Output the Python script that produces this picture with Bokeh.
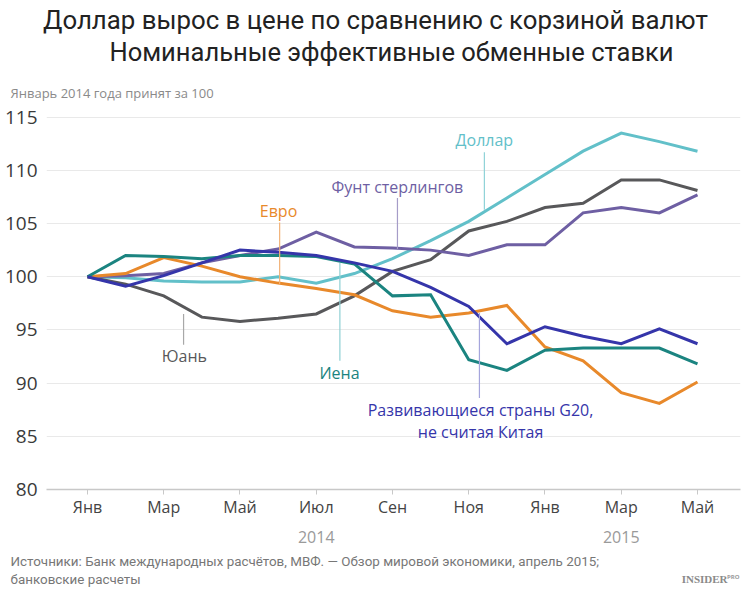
from bokeh.plotting import figure
from bokeh.models import Label, FixedTicker, LinearAxis, Range1d
from bokeh.layouts import column
from bokeh.embed import file_html
from bokeh.resources import INLINE

# ---- data (index 100 = January 2014), monthly Jan 2014 .. May 2015 ----
months = list(range(17))
tick_months = [0, 2, 4, 6, 8, 10, 12, 14, 16]
tick_labels = ["Янв", "Мар", "Май", "Июл", "Сен", "Ноя", "Янв", "Мар", "Май"]
year_ticks = [6, 14]
year_labels = ["2014", "2015"]
y_ticks = [80, 85, 90, 95, 100, 105, 110, 115]

dollar = [100, 99.9, 99.6, 99.5, 99.5, 100.0, 99.4, 100.3, 101.7, 103.4, 105.2, 107.4, 109.6, 111.8, 113.5, 112.7, 111.8]
yuan = [100, 99.3, 98.2, 96.2, 95.8, 96.1, 96.5, 98.2, 100.5, 101.6, 104.3, 105.2, 106.5, 106.9, 109.1, 109.1, 108.1]
pound = [100, 100.1, 100.3, 101.3, 102.0, 102.6, 104.2, 102.8, 102.7, 102.5, 102.0, 103.0, 103.0, 106.0, 106.5, 106.0, 107.7]
euro = [100, 100.3, 101.8, 101.0, 100.0, 99.4, 98.9, 98.3, 96.8, 96.2, 96.6, 97.3, 93.4, 92.1, 89.1, 88.1, 90.1]
yen = [100, 102.0, 101.9, 101.7, 102.0, 102.0, 101.9, 101.2, 98.2, 98.3, 92.2, 91.2, 93.1, 93.3, 93.3, 93.3, 91.8]
g20 = [100, 99.1, 100.1, 101.3, 102.5, 102.3, 102.0, 101.3, 100.5, 99.0, 97.2, 93.7, 95.3, 94.4, 93.7, 95.1, 93.7]

title_lines = ["Доллар вырос в цене по сравнению с корзиной валют",
               "Номинальные эффективные обменные ставки"]
subtitle = "Январь 2014 года принят за 100"
source_lines = ["Источники: Банк международных расчётов, МВФ. — Обзор мировой экономики, апрель 2015;",
                "банковские расчеты"]

FONT = "Open Sans"
TITLE_FONT = "Roboto"
W = 750
HEAD_H, MAIN_H, FOOT_H = 104, 445, 44


def blank(h, y_top):
    f = figure(frame_width=W, frame_height=h, output_backend="svg", toolbar_location=None,
               x_range=Range1d(0, W), y_range=Range1d(y_top + h, y_top),
               x_axis_location=None, y_axis_location=None, min_border=0)
    try:
        f.frame_align = False
    except AttributeError:
        pass
    f.grid.visible = False
    f.outline_line_color = None
    f.background_fill_color = "white"
    f.border_fill_color = "white"
    return f


# ---------------- header ----------------
head = blank(HEAD_H, 0)
head.add_layout(Label(x=375, y=19, text=title_lines[0], text_align="center", text_baseline="middle",
                      text_font=TITLE_FONT, text_font_size="25.8px", text_color="#222222"))
head.add_layout(Label(x=391, y=51, text=title_lines[1], text_align="center", text_baseline="middle",
                      text_font=TITLE_FONT, text_font_size="25.5px", text_color="#222222"))
head.add_layout(Label(x=10, y=92, text=subtitle, text_align="left", text_baseline="middle",
                      text_font=FONT, text_font_size="13px", text_color="#8a8a8a"))

# ---------------- main chart ----------------
X0, X1 = -1.0754, 17.128
p = figure(width=W, height=MAIN_H, output_backend="svg", toolbar_location=None,
           x_range=Range1d(X0, X1), y_range=Range1d(80, 116),
           min_border_left=46, min_border_right=10,
           min_border_top=2, min_border_bottom=60)
p.outline_line_color = None
p.background_fill_color = "white"
p.border_fill_color = "white"

p.xgrid.visible = False
p.ygrid.ticker = FixedTicker(ticks=y_ticks)
p.ygrid.grid_line_color = "#e9e9e9"
p.ygrid.grid_line_width = 1

p.yaxis.ticker = FixedTicker(ticks=y_ticks)
p.yaxis.axis_line_color = None
p.yaxis.major_tick_line_color = None
p.yaxis.minor_tick_line_color = None
p.yaxis.major_label_standoff = 3
p.yaxis.major_label_text_font = FONT
p.yaxis.major_label_text_font_size = "19px"
p.yaxis.major_label_text_color = "#3a3a3a"

p.xaxis.ticker = FixedTicker(ticks=tick_months)
p.xaxis.major_label_overrides = {m: l for m, l in zip(tick_months, tick_labels)}
p.xaxis.axis_line_color = "#c8c8c8"
p.xaxis.axis_line_width = 1.5
p.xaxis.major_tick_line_color = "#c8c8c8"
p.xaxis.major_tick_out = 5
p.xaxis.major_tick_in = 0
p.xaxis.minor_tick_line_color = None
p.xaxis.major_label_standoff = 1
p.xaxis.major_label_text_font = FONT
p.xaxis.major_label_text_font_size = "16px"
p.xaxis.major_label_text_color = "#444444"

ya = LinearAxis(ticker=FixedTicker(ticks=year_ticks),
                major_label_overrides={m: l for m, l in zip(year_ticks, year_labels)})
ya.axis_line_color = None
ya.major_tick_line_color = None
ya.minor_tick_line_color = None
ya.major_label_standoff = 4
ya.major_label_text_font = FONT
ya.major_label_text_font_size = "16px"
ya.major_label_text_color = "#9a9a9a"
p.add_layout(ya, "below")

series = [
    (dollar, "#62c0c9"),
    (yuan, "#58585a"),
    (pound, "#6e5fa3"),
    (euro, "#e8892b"),
    (yen, "#1b8480"),
    (g20, "#3535aa"),
]
for vals, col in series:
    p.line(months, vals, line_color=col, line_width=3, line_join="miter")

labels = [
    # text, x, y, color, leader x, leader y0, leader y1, leader color
    (["Доллар"], 10.41, 112.83, "#62c0c9", 10.41, 111.7, 106.3, "#8fd2d8"),
    (["Фунт стерлингов"], 8.13, 108.41, "#6e5fa3", 8.13, 107.4, 102.6, "#a59cc8"),
    (["Евро"], 5.01, 106.16, "#e8892b", 5.04, 105.1, 99.3, "#f2b277"),
    (["Юань"], 2.54, 92.51, "#58585a", 2.52, 96.5, 93.6, "#a8a8a8"),
    (["Иена"], 6.61, 90.91, "#1b8480", 6.62, 101.3, 92.1, "#8fd0d4"),
    (["Развивающиеся страны G20,", "не считая Китая"], 10.31, 87.43, "#3535aa", 10.28, 96.6, 88.6, "#a5a5dc"),
]
for texts, tx, ty, col, lx, ly0, ly1, lcol in labels:
    p.segment(x0=[lx], y0=[ly0], x1=[lx], y1=[ly1], line_color=lcol, line_width=1.2)
    for k, t in enumerate(texts):
        p.add_layout(Label(x=tx, y=ty - k * 2.05, text=t, text_align="center",
                           text_baseline="middle", text_font=FONT,
                           text_font_size="16px", text_color=col))

# ---------------- footer ----------------
foot = blank(FOOT_H, HEAD_H + MAIN_H)
foot.add_layout(Label(x=10, y=561, text=source_lines[0], text_align="left", text_baseline="middle",
                      text_font=TITLE_FONT, text_font_size="13.4px", text_color="#777777"))
foot.add_layout(Label(x=10, y=579, text=source_lines[1], text_align="left", text_baseline="middle",
                      text_font=TITLE_FONT, text_font_size="13.4px", text_color="#777777"))
foot.add_layout(Label(x=727, y=578, text="INSIDER", text_align="right", text_baseline="middle",
                      text_font="Liberation Serif", text_font_style="bold",
                      text_font_size="11px", text_color="#8a8a8a"))
foot.add_layout(Label(x=739, y=576, text="PRO", text_align="right", text_baseline="middle",
                      text_font=FONT, text_font_style="bold",
                      text_font_size="6px", text_color="#9a9a9a"))

layout = column(head, p, foot, spacing=0)
open("out.html", "w").write(file_html(layout, INLINE))
